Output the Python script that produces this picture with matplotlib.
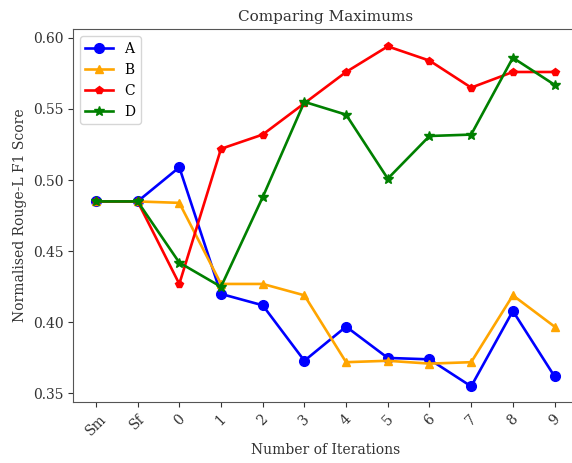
import matplotlib
matplotlib.use('Agg')
import matplotlib.pyplot as plt

plt.rcParams['font.family'] = ['DejaVu Serif']

# --- data ---
iterations = ['Sm', 'Sf', '0', '1', '2', '3', '4', '5', '6', '7', '8', '9']
score_a = [0.485, 0.485, 0.509, 0.420, 0.412, 0.373, 0.397, 0.375, 0.374, 0.355, 0.408, 0.362]
score_b = [0.485, 0.485, 0.484, 0.427, 0.427, 0.419, 0.372, 0.373, 0.371, 0.372, 0.419, 0.397]
score_c = [0.485, 0.485, 0.427, 0.522, 0.532, 0.554, 0.576, 0.594, 0.584, 0.565, 0.576, 0.576]
score_d = [0.485, 0.485, 0.442, 0.425, 0.488, 0.555, 0.546, 0.501, 0.531, 0.532, 0.586, 0.567]

fig = plt.figure(figsize=(5.72, 4.63), dpi=100)
# the reference is cropped on the right, so the axes run past the figure edge
ax = fig.add_axes([0.1276, 0.1317, 0.882, 0.805])

x = range(len(iterations))
ax.plot(x, score_a, color='blue', marker='o', markersize=7, linewidth=1.9, label='A')
ax.plot(x, score_b, color='orange', marker='^', markersize=6, linewidth=1.9, label='B')
ax.plot(x, score_c, color='red', marker='p', markersize=6, linewidth=1.9, label='C')
ax.plot(x, score_d, color='green', marker='*', markersize=7, linewidth=1.9, label='D')

ax.set_xticks(list(x))
ax.set_xticklabels(iterations, rotation=45)
ax.set_ylim(0.344, 0.606)
ax.set_yticks([0.35, 0.40, 0.45, 0.50, 0.55, 0.60])
ax.set_yticklabels(['0.35', '0.40', '0.45', '0.50', '0.55', '0.60'])

for s in ax.spines.values():
    s.set_color('#555555')
ax.spines['right'].set_visible(False)
ax.tick_params(colors='#333333', labelsize=10)

ax.set_title('Comparing Maximums', fontsize=11, color='#333333')
ax.set_xlabel('Number of Iterations', fontsize=10, color='#333333')
ax.set_ylabel('Normalised Rouge-L F1 Score', fontsize=10, color='#333333')
ax.legend(loc='upper left', fontsize=10)

fig.savefig('out.png', dpi=100)
